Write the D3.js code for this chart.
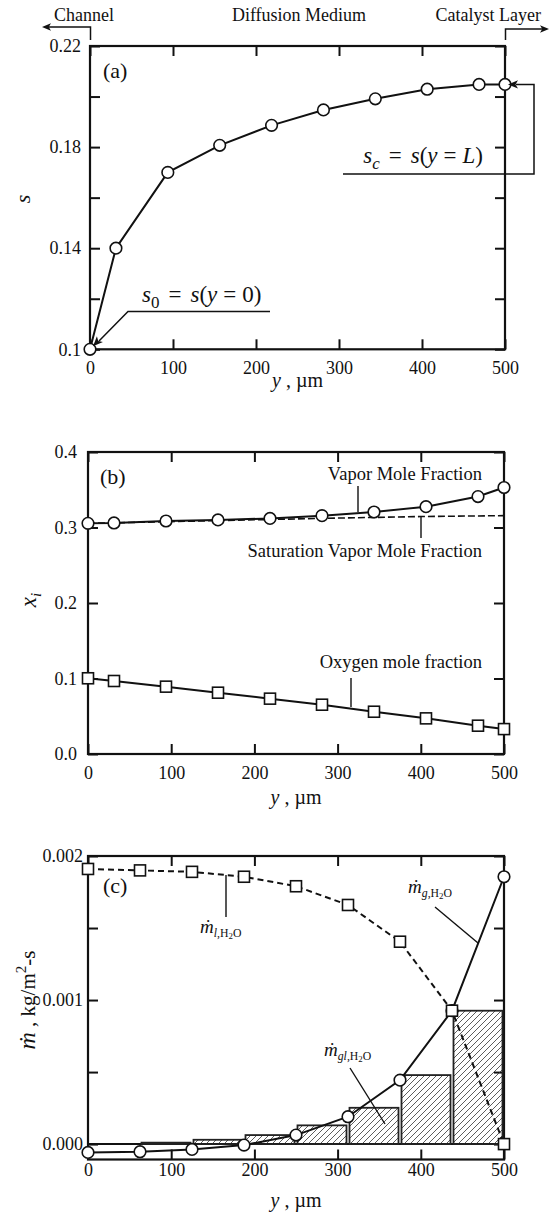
<!DOCTYPE html>
<html><head><meta charset="utf-8">
<script src="https://cdn.jsdelivr.net/npm/d3@7"></script>
<style>
body{margin:0;background:#fff;}
text{font-family:"Liberation Serif","Times New Roman","DejaVu Serif",serif;fill:#111;}
</style></head>
<body><svg id="c" width="550" height="1224"></svg>
<script>
// ---------- DATA ----------
const xTicks = [0,100,200,300,400,500];
// Panel (a)
const yCentres = [0,31.25,93.75,156.25,218.75,281.25,343.75,406.25,468.75,500];
const sVals = [0.1,0.14,0.17,0.1807,0.1886,0.1947,0.1991,0.2029,0.2048,0.2048];
const aTicks = [0.1,0.12,0.14,0.16,0.18,0.2,0.22];
const aTickLabels = {"0.1":"0.1","0.14":"0.14","0.18":"0.18","0.22":"0.22"};
// Panel (b)
const vaporVals = [0.3055,0.306,0.3086,0.31,0.312,0.3157,0.3205,0.3276,0.341,0.353];
const satY = [0,100,200,300,400,500];
const satVals = [0.3055,0.3078,0.3102,0.3125,0.3145,0.3157];
const oxyVals = [0.1003,0.0967,0.0892,0.0812,0.0733,0.0653,0.056,0.0472,0.0375,0.033];
const bTicks = [0,0.1,0.2,0.3,0.4];
// Panel (c)
const faces = [0,62.5,125,187.5,250,312.5,375,437.5,500];
const liqVals = [0.00191,0.0019,0.00189,0.001856,0.00179,0.00166,0.001405,0.000926,0.0];
const gasVals = [-0.000058,-0.000053,-0.000037,-0.000007,0.0000625,0.00019,0.000444,0.000926,0.001856];
const glVals = [0.0,0.00001,0.00003,0.0000625,0.00013,0.000252,0.000479,0.000926];
const cTicks = [0,0.0005,0.001,0.0015,0.002];
const cTickLabels = {"0":"0.000","0.001":"0.001","0.002":"0.002"};

// ---------- SETUP ----------
const FS = 18;
const svg = d3.select("#c");
const defs = svg.append("defs");
const pat = defs.append("pattern").attr("id","hatch").attr("patternUnits","userSpaceOnUse")
  .attr("width",6).attr("height",6);
pat.append("path").attr("d","M0,6 L6,0 M-1,1 L1,-1 M5,7 L7,5")
  .attr("stroke","#333").attr("stroke-width",0.8);

function arrowHead(g, x, y, angleDeg, size){
  const s = size||9;
  g.append("path").attr("d",`M0,0 L${-s},${-s*0.42} L${-s*0.75},0 L${-s},${s*0.42} Z`)
    .attr("transform",`translate(${x},${y}) rotate(${angleDeg})`).attr("fill","#111");
}

function panel(opts){
  const {x0,x1,y0,y1,ydom,yticks,ylabelFn} = opts;
  const x = d3.scaleLinear().domain([0,500]).range([x0,x1]);
  const y = d3.scaleLinear().domain(ydom).range([y1,y0]);
  const g = svg.append("g");
  const tl = 10;
  const styleText = s => s.selectAll("text").attr("font-size",FS)
      .attr("font-family","Liberation Serif, Times New Roman, serif").attr("fill","#111");
  g.append("g").attr("transform",`translate(${x0},0)`)
    .call(d3.axisLeft(y).tickValues(yticks).tickSize(-tl).tickPadding(opts.yPad).tickFormat(ylabelFn))
    .call(s=>{s.select(".domain").remove(); s.selectAll("line").attr("stroke","#111").attr("stroke-width",2); styleText(s);});
  g.append("g").attr("transform",`translate(${x1},0)`)
    .call(d3.axisRight(y).tickValues(yticks).tickSize(-tl).tickFormat(""))
    .call(s=>{s.select(".domain").remove(); s.selectAll("line").attr("stroke","#111").attr("stroke-width",2);});
  g.append("g").attr("transform",`translate(0,${y1})`)
    .call(d3.axisBottom(x).tickValues(xTicks).tickSize(-tl).tickPadding(opts.xPad).tickFormat(d3.format("d")))
    .call(s=>{s.select(".domain").remove(); s.selectAll("line").attr("stroke","#111").attr("stroke-width",2); styleText(s);});
  g.append("g").attr("transform",`translate(0,${y0})`)
    .call(d3.axisTop(x).tickValues(xTicks).tickSize(-tl).tickFormat(""))
    .call(s=>{s.select(".domain").remove(); s.selectAll("line").attr("stroke","#111").attr("stroke-width",2);});
  g.append("rect").attr("x",x0).attr("y",y0).attr("width",x1-x0).attr("height",y1-y0)
    .attr("fill","none").attr("stroke","#111").attr("stroke-width",2.2);
  const t = g.append("text").attr("x",(x0+x1)/2).attr("y",y1+opts.titleDy).attr("text-anchor","middle").attr("font-size",20);
  t.append("tspan").attr("font-style","italic").text("y");
  t.append("tspan").text(" , \u00b5m");
  return {x,y,g};
}

function circles(g, xs, ys, x, y){
  g.selectAll(null).data(xs).enter().append("circle")
    .attr("cx",(d)=>x(d)).attr("cy",(d,i)=>y(ys[i])).attr("r",5.8)
    .attr("fill","#fff").attr("stroke","#111").attr("stroke-width",1.6);
}
function squares(g, xs, ys, x, y){
  g.selectAll(null).data(xs).enter().append("rect")
    .attr("x",(d)=>x(d)-5.5).attr("y",(d,i)=>y(ys[i])-5.5).attr("width",11).attr("height",11)
    .attr("fill","#fff").attr("stroke","#111").attr("stroke-width",1.6);
}
function line(g, xs, ys, x, y, dash, w){
  const ln = d3.line().x(d=>x(d[0])).y(d=>y(d[1]));
  g.append("path").attr("d",ln(xs.map((d,i)=>[d,ys[i]]))).attr("fill","none")
    .attr("stroke","#111").attr("stroke-width",w||2).attr("stroke-dasharray",dash||null);
}

// ---------- HEADER ----------
const hdr = svg.append("g");
hdr.append("text").attr("x",54).attr("y",21).attr("font-size",FS).text("Channel");
hdr.append("text").attr("x",299).attr("y",21).attr("font-size",FS).attr("text-anchor","middle").text("Diffusion Medium");
hdr.append("text").attr("x",541).attr("y",21).attr("font-size",FS).attr("text-anchor","end").text("Catalyst Layer");
hdr.append("path").attr("d","M90.5,40 L90.5,27 L48,27").attr("fill","none").attr("stroke","#111").attr("stroke-width",1.5);
arrowHead(hdr,42,27,180,9);
hdr.append("path").attr("d","M505.5,40 L505.5,29 L543,29").attr("fill","none").attr("stroke","#111").attr("stroke-width",1.5);
arrowHead(hdr,549,29,0,9);

// ---------- PANEL A ----------
const A = panel({x0:90,x1:505,y0:46,y1:349.3,ydom:[0.1,0.22],yticks:aTicks,
  ylabelFn:d=>aTickLabels[String(+d.toFixed(2))]||"", yPad:9, xPad:12, titleDy:38});
line(A.g, yCentres, sVals, A.x, A.y);
circles(A.g, yCentres, sVals, A.x, A.y);
A.g.append("text").attr("x",103).attr("y",78).attr("font-size",22).text("(a)");
A.g.append("text").attr("x",30).attr("y",199).attr("font-size",22).attr("font-style","italic")
  .attr("text-anchor","middle").attr("transform","rotate(-90,30,199)").text("s");
function eqText(g, x, y, anchor, parts){
  const t = g.append("text").attr("x",x).attr("y",y).attr("font-size",23);
  if(anchor) t.attr("text-anchor",anchor);
  parts.forEach(p=>{
    const ts = t.append("tspan").text(p.t);
    if(p.i) ts.attr("font-style","italic");
    if(p.fs) ts.attr("font-size",p.fs);
    if(p.dy) ts.attr("dy",p.dy);
    if(p.dx) ts.attr("dx",p.dx);
  });
  return t;
}
// s0 annotation
eqText(A.g, 142, 302, null, [
  {t:"s",i:1},{t:"0",fs:17,dy:6},{t:"=",dy:-6,dx:9},{t:"s",i:1,dx:9},{t:"("},{t:"y",i:1},{t:"=",dx:6},{t:"0",dx:6},{t:")"}]);
A.g.append("path").attr("d","M270,311.5 L128,311.5 L99,341").attr("fill","none").attr("stroke","#111").attr("stroke-width",1.5);
arrowHead(A.g, A.x(0)+3, A.y(0.1)-3, 134, 10);
// sc annotation
eqText(A.g, 483, 163, "end", [
  {t:"s",i:1},{t:"c",i:1,fs:17,dy:6},{t:"=",dy:-6,dx:9},{t:"s",i:1,dx:9},{t:"("},{t:"y",i:1},{t:"=",dx:6},{t:"L",i:1,dx:6},{t:")"}]);
A.g.append("path").attr("d",`M343,174 L534,174 L534,${A.y(0.2048)} L516,${A.y(0.2048)}`).attr("fill","none").attr("stroke","#111").attr("stroke-width",1.5);
arrowHead(A.g, A.x(500)+3, A.y(0.2048), 180, 10);

// ---------- PANEL B ----------
const B = panel({x0:88,x1:504,y0:452,y1:754,ydom:[0,0.4],yticks:bTicks,
  ylabelFn:d3.format(".1f"), yPad:11, xPad:12, titleDy:50});
line(B.g, satY, satVals, B.x, B.y, "7,3", 1.6);
line(B.g, yCentres, vaporVals, B.x, B.y);
line(B.g, yCentres, oxyVals, B.x, B.y);
circles(B.g, yCentres, vaporVals, B.x, B.y);
squares(B.g, yCentres, oxyVals, B.x, B.y);
B.g.append("text").attr("x",100).attr("y",484).attr("font-size",22).text("(b)");
{
  const t = B.g.append("text").attr("x",36).attr("y",600).attr("font-size",23).attr("font-style","italic")
    .attr("text-anchor","middle").attr("transform","rotate(-90,36,600)");
  t.append("tspan").text("x");
  t.append("tspan").attr("font-size",15).attr("dy",5).text("i");
}
B.g.append("text").attr("x",482).attr("y",480).attr("font-size",18.5).attr("text-anchor","end").text("Vapor Mole Fraction");
B.g.append("line").attr("x1",358).attr("x2",358).attr("y1",486).attr("y2",512).attr("stroke","#111").attr("stroke-width",1.4);
B.g.append("text").attr("x",482).attr("y",557).attr("font-size",18.5).attr("text-anchor","end").text("Saturation Vapor Mole Fraction");
B.g.append("line").attr("x1",421).attr("x2",421).attr("y1",517).attr("y2",538).attr("stroke","#111").attr("stroke-width",1.4);
B.g.append("text").attr("x",482).attr("y",668).attr("font-size",18.5).attr("text-anchor","end").text("Oxygen mole fraction");
B.g.append("line").attr("x1",351).attr("x2",351).attr("y1",678).attr("y2",707).attr("stroke","#111").attr("stroke-width",1.4);

// ---------- PANEL C ----------
const C = panel({x0:88,x1:504,y0:856,y1:1159.5,ydom:[-0.000107,0.002],yticks:cTicks,
  ylabelFn:d=>cTickLabels[String(+d.toFixed(4))]||"", yPad:5, xPad:4, titleDy:47});
C.g.append("line").attr("x1",C.x(0)).attr("x2",C.x(500)).attr("y1",C.y(0)).attr("y2",C.y(0))
  .attr("stroke","#111").attr("stroke-width",2);
C.g.selectAll(null).data(glVals).enter().append("rect")
  .attr("x",(d,i)=>C.x(faces[i])+1.5)
  .attr("width",(d,i)=>C.x(faces[i+1])-C.x(faces[i])-3)
  .attr("y",d=>C.y(d)).attr("height",d=>C.y(0)-C.y(d))
  .attr("fill","url(#hatch)").attr("stroke","#222").attr("stroke-width",1.8);
line(C.g, faces, liqVals, C.x, C.y, "6,4", 2);
line(C.g, faces, gasVals, C.x, C.y);
circles(C.g, faces, gasVals, C.x, C.y);
squares(C.g, faces, liqVals, C.x, C.y);
C.g.append("text").attr("x",103).attr("y",893).attr("font-size",22).text("(c)");
function mdotLabel(g, x, y, sub, size, anchor, rot){
  const t = g.append("text").attr("x",x).attr("y",y).attr("font-size",size);
  if(anchor) t.attr("text-anchor",anchor);
  if(rot) t.attr("transform",rot);
  t.append("tspan").attr("font-style","italic").text("\u1e41");
  if(sub){
    const ss = size*0.62;
    t.append("tspan").attr("font-size",ss).attr("font-style","italic").attr("dy",size*0.22).text(sub);
    t.append("tspan").attr("font-size",ss).text(",H");
    t.append("tspan").attr("font-size",ss*0.75).attr("dy",size*0.12).text("2");
    t.append("tspan").attr("font-size",ss).attr("dy",-size*0.12).text("O");
  }
  return t;
}
mdotLabel(C.g, 200, 933, "l", 19);
C.g.append("line").attr("x1",226).attr("x2",226).attr("y1",875).attr("y2",917).attr("stroke","#111").attr("stroke-width",1.4);
mdotLabel(C.g, 408, 893, "g", 19);
C.g.append("line").attr("x1",435).attr("x2",478).attr("y1",907).attr("y2",943).attr("stroke","#111").attr("stroke-width",1.4);
mdotLabel(C.g, 324, 1056, "gl", 19);
C.g.append("line").attr("x1",350).attr("x2",385).attr("y1",1068).attr("y2",1124).attr("stroke","#111").attr("stroke-width",1.4);
{
  const t = mdotLabel(C.g, 35, 1000, null, 24, "middle", "rotate(-90,35,1000)");
  t.append("tspan").attr("font-size",21).text(" ,  kg/m");
  t.append("tspan").attr("font-size",15).attr("dy",-9).text("2");
  t.append("tspan").attr("font-size",21).attr("dy",9).text("-s");
}
</script></body></html>
